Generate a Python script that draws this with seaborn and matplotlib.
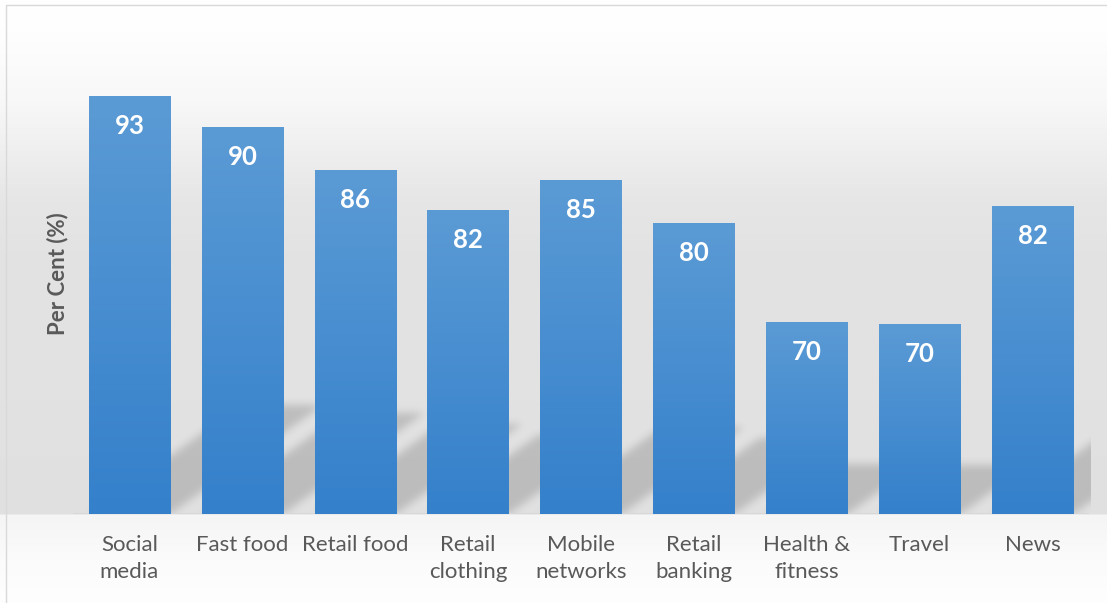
import numpy as np
import pandas as pd
import matplotlib
matplotlib.use("Agg")
import matplotlib.pyplot as plt
import seaborn as sns
from matplotlib.patches import Rectangle

# ---- data ----
categories = ["Social\nmedia", "Fast food", "Retail food", "Retail\nclothing",
              "Mobile\nnetworks", "Retail\nbanking", "Health &\nfitness", "Travel", "News"]
values = [93.45, 90.25, 85.8, 81.65, 84.75, 80.3, 70.0, 69.75, 82.0]
y_label = "Per Cent (%)"

sns.set_theme(style="white")
plt.rcParams['font.family'] = ['Lato', 'DejaVu Sans']

W, H, DPI = 1107, 603, 100
fig = plt.figure(figsize=(W / DPI, H / DPI), dpi=DPI)
fig.patch.set_facecolor('white')

# ---- background axes (gradient, shadows, border) ----
bg = fig.add_axes([0, 0, 1, 1], zorder=-2)
bg.set_xlim(0, W)
bg.set_ylim(H, 0)
bg.axis('off')

rows = np.arange(H)
ky = [0, 30, 100, 150, 200, 250, 400, 513, 515, 560, 603]
kv = [255, 254, 248, 239, 230, 227, 226, 224, 245, 251, 254]
prof = np.interp(rows, ky, kv) / 255.0
bgimg = np.repeat(prof[:, None, None], 3, axis=2)
bg.imshow(bgimg, extent=(0, W, H, 0), origin='upper', aspect='auto', zorder=0)

# ---- main axes ----
ax = fig.add_axes([73 / W, 89 / H, (1089 - 73) / W, (514 - 33) / H])
ax.patch.set_alpha(0)
df = pd.DataFrame({'cat': categories, 'val': values})
sns.barplot(data=df, x='cat', y='val', color='#4A8ED0', width=0.72,
            saturation=1, ax=ax)
ymin, ymax = 50, 100
ax.set_ylim(ymin, ymax)
ax.set_xlim(-0.5, len(categories) - 0.5)


def blur(a, s):
    r = int(3 * s)
    kern = np.exp(-0.5 * (np.arange(-r, r + 1) / s) ** 2)
    kern /= kern.sum()
    a = np.apply_along_axis(lambda m: np.convolve(m, kern, mode='same'), 0, a)
    a = np.apply_along_axis(lambda m: np.convolve(m, kern, mode='same'), 1, a)
    return a


# ---- perspective shadows derived from bar patches ----
yy, xx = np.mgrid[0:H, 0:W]
yc = yy + 0.5
xc = xx + 0.5
transmit = np.ones((H, W))
rb = None
for p in ax.patches:
    x0 = p.get_x()
    x1 = x0 + p.get_width()
    top = p.get_height()
    X0, Yb = ax.transData.transform((x0, ymin))
    X1, Yt = ax.transData.transform((x1, top))
    rb = H - Yb
    hb = Yt - Yb
    hs = 0.26 * hb
    k = 1.4
    t = rb - yc
    inside = ((t >= 0) & (t <= hs) & (xc >= X0 + k * t) & (xc <= X1 + k * t)).astype(float)
    a = blur(inside, 4) * 0.16
    transmit *= (1 - a)

alpha = 1 - transmit
alpha[yc > rb] = 0
right_px = ax.transAxes.transform((1, 0))[0] + 2
alpha[:, xc[0] > right_px] = 0
shadow = np.zeros((H, W, 4))
shadow[..., 3] = alpha
bg.imshow(shadow, extent=(0, W, H, 0), origin='upper', aspect='auto', zorder=1)

bg.add_patch(Rectangle((5.5, 4.5), W, H, fill=False, edgecolor='#d9d9d9',
                       linewidth=1.0, zorder=3))

# faint baseline edge of the plot area
ax.axhline(ymin, color='#d6d6d6', linewidth=1.2, zorder=0.5)

# ---- bar gradients ----
top_c = np.array([91, 155, 213]) / 255
bot_c = np.array([52, 128, 203]) / 255
g = np.linspace(0, 1, 256)[:, None, None]
grad = top_c[None, None, :] * (1 - g) + bot_c[None, None, :] * g
for p in ax.patches:
    x0 = p.get_x()
    x1 = x0 + p.get_width()
    top = p.get_height()
    im = ax.imshow(grad, extent=(x0, x1, ymin, top), origin='upper',
                   aspect='auto', zorder=p.get_zorder() + 0.1)
    im.set_clip_path(p)
    p.set_edgecolor('none')
ax.set_ylim(ymin, ymax)
ax.set_xlim(-0.5, len(categories) - 0.5)

# ---- value labels ----
for p, v in zip(ax.patches, values):
    ax.annotate(f"{v:.0f}", xy=(p.get_x() + p.get_width() / 2, v),
                xytext=(0, -38), textcoords='offset pixels',
                ha='center', va='baseline', color='white',
                fontsize=18.5, fontweight='bold', zorder=5)

# ---- axes styling ----
for s in ax.spines.values():
    s.set_visible(False)
ax.set_yticks([])
ax.set_xlabel('')
ax.tick_params(axis='x', length=0, pad=15, labelsize=16, labelcolor='#595959')
for t in ax.get_xticklabels():
    t.set_linespacing(1.45)
ax.set_ylabel(y_label, fontsize=16, fontweight='bold', color='#595959')
ax.yaxis.set_label_coords(-0.005, 0.5)

fig.savefig('out.png', dpi=DPI, facecolor=fig.get_facecolor())
